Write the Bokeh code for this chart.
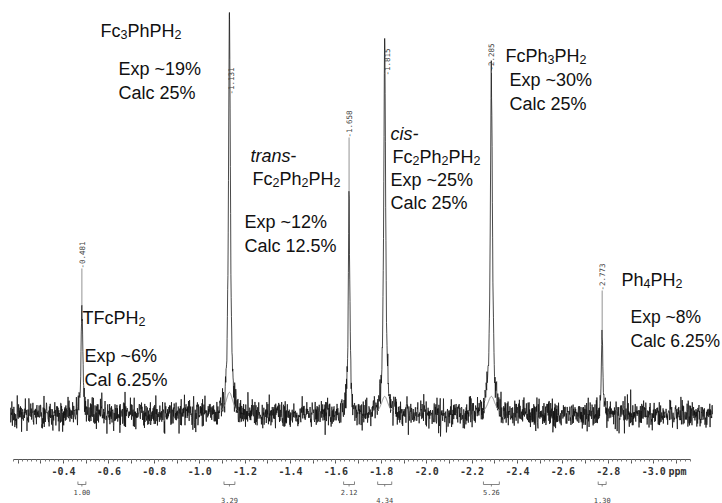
import numpy as np
from bokeh.plotting import figure
from bokeh.models import Range1d, LinearAxis, FixedTicker, Label, ColumnDataSource
from bokeh.core.properties import value
from bokeh.embed import file_html
from bokeh.resources import INLINE

# --- PH2 region: peak table -----------------------------------------------
peak_ppm = [-0.481, -1.131, -1.658, -1.815, -2.285, -2.773]
peak_height = [27.0, 100.0, 54.5, 93.5, 85.0, 19.0]      # relative intensity
peak_hwhm = [0.0045, 0.0050, 0.0040, 0.0050, 0.0055, 0.0040]  # ppm

# broad fitted components drawn under the strongest lines
fit_ppm = [-1.131, -1.815, -2.285]
fit_height = [6.0, 5.0, 5.0]
fit_hwhm = [0.020, 0.020, 0.022]

# integration regions
integral_value = ["1.00", "3.29", "2.12", "4.34", "5.26", "1.30"]
integral_width = [0.035, 0.048, 0.048, 0.062, 0.070, 0.035]

# axis ticks
tick_values = [-0.4, -0.6, -0.8, -1.0, -1.2, -1.4, -1.6, -1.8, -2.0, -2.2,
               -2.4, -2.6, -2.8, -3.0]
tick_labels = ["-0.4", "-0.6", "-0.8", "-1.0", "-1.2", "-1.4", "-1.6", "-1.8",
               "-2.0", "-2.2", "-2.4", "-2.6", "-2.8", "-3.0"]

W, H = 722, 503
BASE_PX = 414.0       # baseline row on the page
PX_PER_UNIT = 4.02    # intensity scale
PX_PER_PPM = 227.0


def xd(px):
    """page column -> ppm"""
    return -(0.4 + (px - 63.0) / PX_PER_PPM)


def yd(py):
    """page row -> intensity"""
    return (BASE_PX - py) / PX_PER_UNIT


p = figure(width=W, height=H, x_range=Range1d(xd(0), xd(W)),
           y_range=Range1d(yd(H), yd(0)), x_axis_type=None, y_axis_type=None,
           output_backend="svg", toolbar_location=None, min_border=0)
p.outline_line_color = None
p.background_fill_color = "white"
p.border_fill_color = "white"

# --- spectrum trace --------------------------------------------------------
x = np.union1d(np.linspace(xd(10), xd(712), 2600), np.array(peak_ppm))
y = np.zeros_like(x)
for c, h, w in zip(peak_ppm, peak_height, peak_hwhm):
    y += h / (1.0 + ((x - c) / w) ** 2)
rng = np.random.default_rng(11)
noise = rng.normal(0.0, 1.7, x.size)
is_center = np.isin(x, peak_ppm)
y = y + np.where(is_center, 0.0, noise)
p.line(x, y, line_color="#111111", line_width=0.9, line_alpha=0.85)

# fitted broad components (short segments around each line)
for c, h, w in zip(fit_ppm, fit_height, fit_hwhm):
    xs = np.linspace(c + 0.035, c - 0.035, 80)
    ys = h / (1.0 + ((xs - c) / w) ** 2) - 0.5
    p.line(xs, ys, line_color="#8c8c8c", line_width=1.0)

# --- peak position labels --------------------------------------------------
label_bottom_px = [268, 94, 137, 75, 70, 290]
label_dx = [0.0, 2.0, 0.0, 2.0, 0.0, 0.0]
peak_top_px = [BASE_PX - h * PX_PER_UNIT for h in peak_height]
lab_src = ColumnDataSource(dict(
    x=peak_ppm,
    y=[yd(b) for b in label_bottom_px],
    dx=label_dx,
    text=[f"{v:.3f}" for v in peak_ppm],
))
p.text(x="x", y="y", text="text", x_offset="dx", source=lab_src, angle=np.pi / 2,
       text_font=value("DejaVu Sans Mono"), text_font_size="7.5px",
       text_color="#444444", text_align="left", text_baseline="middle")
for c, b, t in zip(peak_ppm, label_bottom_px, peak_top_px):
    if t > b:
        p.segment(x0=[c], y0=[yd(b)], x1=[c], y1=[yd(t)],
                  line_color="#777777", line_width=0.8)

# --- ppm axis --------------------------------------------------------------
AXIS_PX = 459
minor = [round(-0.18 - 0.02 * i, 2) for i in range(150)]
major = [round(-0.2 - 0.1 * i, 1) for i in range(30)]
overrides = {}
for t in major:
    overrides[t] = ""
for t, s in zip(tick_values, tick_labels):
    overrides[t] = s
ax = LinearAxis(fixed_location=yd(AXIS_PX),
                ticker=FixedTicker(ticks=major, minor_ticks=minor),
                major_label_overrides=overrides,
                bounds=(xd(690), xd(13)))
ax.axis_line_color = "#555555"
ax.axis_line_width = 1
ax.major_tick_line_color = "#555555"
ax.minor_tick_line_color = "#777777"
ax.major_tick_in = 0
ax.major_tick_out = 4
ax.minor_tick_in = 0
ax.minor_tick_out = 2
ax.major_label_text_font = "DejaVu Sans Mono"
ax.major_label_text_font_style = "bold"
ax.major_label_text_font_size = "10px"
ax.major_label_text_color = "#333333"
ax.major_label_standoff = 3
p.add_layout(ax, "below")
p.add_layout(Label(x=xd(668), y=yd(471), text="ppm", text_font="DejaVu Sans Mono",
                   text_font_style="bold", text_font_size="10px", text_color="#333333",
                   text_baseline="middle", text_align="left"))

# --- integrals -------------------------------------------------------------
for i, (c, w, v) in enumerate(zip(peak_ppm, integral_width, integral_value)):
    yb = yd(484)
    up = yd(481)
    dn = yd(486)
    p.segment(x0=[c + w / 2, c + w / 2, c - w / 2, c], y0=[yb, yb, yb, yb],
              x1=[c - w / 2, c + w / 2, c - w / 2, c], y1=[yb, up, up, dn],
              line_color="#666666", line_width=0.8)
    row = 491 if i % 2 == 0 else 499
    p.add_layout(Label(x=c, y=yd(row), text=v, text_font="DejaVu Sans Mono",
                       text_font_size="7px", text_color="#444444",
                       text_align="center", text_baseline="middle"))

# --- annotations with subscripts ------------------------------------------
ARIAL = {"F": 611, "c": 500, "P": 667, "h": 556, "H": 722, "T": 611, "E": 667,
         "x": 500, "p": 556, " ": 278, "~": 584, "%": 889, "C": 722, "a": 556,
         "l": 222, "s": 500, "i": 222, "t": 278, "r": 333, "n": 556, "-": 333,
         ".": 278}
FS = 18
SUB = 12.5


def width(s, size):
    return sum(ARIAL.get(ch, 556) for ch in s) * size / 1000.0


def rich(x0, base, parts, fs=FS):
    cx = x0
    for s, kind in parts:
        size = fs * SUB / FS if kind == "sub" else fs
        yy = base + 4 if kind == "sub" else base
        p.add_layout(Label(x=xd(cx), y=yd(yy), text=s, text_font="Liberation Sans",
                           text_font_size=f"{size}px",
                           text_font_style="italic" if kind == "it" else "normal",
                           text_color="#111111", text_baseline="alphabetic",
                           text_align="left"))
        cx += width(s, size)


def plain(x0, base, s, fs=FS):
    rich(x0, base, [(s, "n")], fs)


# Fc3PhPH2
rich(100, 30, [("Fc", "n"), ("3", "sub"), ("PhPH", "n"), ("2", "sub")])
plain(118, 68, "Exp ~19%")
plain(118, 92, "Calc 25%")
# trans-Fc2Ph2PH2
rich(250, 155, [("trans", "it"), (" -", "n")])
rich(252, 178, [("Fc", "n"), ("2", "sub"), ("Ph", "n"), ("2", "sub"), ("PH", "n"), ("2", "sub")])
plain(244, 221, "Exp ~12%")
plain(244, 245, "Calc 12.5%")
# cis-Fc2Ph2PH2
rich(390, 133, [("cis-", "it")])
rich(392, 156, [("Fc", "n"), ("2", "sub"), ("Ph", "n"), ("2", "sub"), ("PH", "n"), ("2", "sub")])
plain(390, 179, "Exp ~25%")
plain(390, 202, "Calc 25%")
# FcPh3PH2
rich(505, 55, [("FcPh", "n"), ("3", "sub"), ("PH", "n"), ("2", "sub")])
plain(509, 79, "Exp ~30%")
plain(509, 103, "Calc 25%")
# Ph4PH2
rich(621, 279, [("Ph", "n"), ("4", "sub"), ("PH", "n"), ("2", "sub")])
plain(630, 316, "Exp ~8%", 17.5)
plain(630, 340, "Calc 6.25%", 17.5)
# TFcPH2
rich(82, 317, [("TFcPH", "n"), ("2", "sub")])
plain(84, 355, "Exp ~6%")
plain(84, 379, "Cal 6.25%")

open("out.html", "w").write(file_html(p, INLINE))
